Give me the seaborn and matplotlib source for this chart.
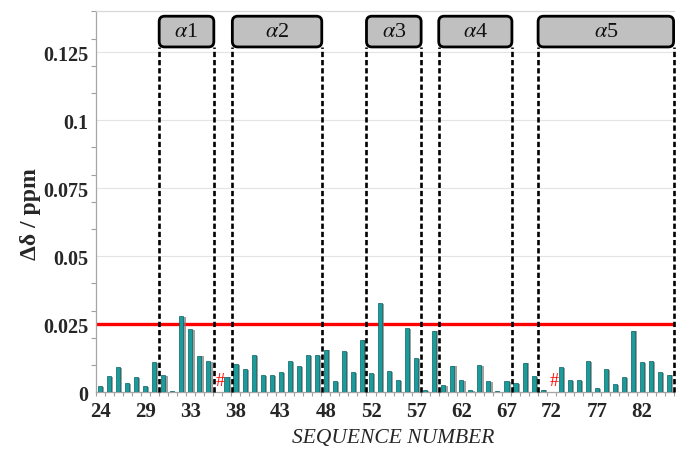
import numpy as np
import pandas as pd
import matplotlib
matplotlib.use("Agg")
import matplotlib.pyplot as plt
import seaborn as sns
from matplotlib.patches import FancyBboxPatch
from matplotlib.ticker import FixedLocator, MultipleLocator
import matplotlib.patheffects as pe

# ---------------- data ----------------
seq_index = list(range(64))
shift = [0.0024, 0.0059, 0.0094, 0.0034, 0.0055, 0.0024, 0.0110, 0.0064, 0.0005, 0.0279,
         0.0231, 0.0135, 0.0116, np.nan, 0.0058, 0.0103, 0.0086, 0.0137, 0.0064, 0.0064,
         0.0074, 0.0116, 0.0096, 0.0137, 0.0137, 0.0157, 0.0040, 0.0150, 0.0075, 0.0194,
         0.0071, 0.0329, 0.0077, 0.0045, 0.0236, 0.0126, 0.0009, 0.0227, 0.0027, 0.0098,
         0.0046, 0.0007, 0.0101, 0.0042, 0.0006, 0.0040, 0.0033, 0.0109, 0.0060, 0.0010,
         np.nan, 0.0093, 0.0045, 0.0045, 0.0116, 0.0016, 0.0086, 0.0029, 0.0055, 0.0227,
         0.0110, 0.0116, 0.0073, 0.0065]
missing_index = [13, 50]
x_tick_labels = ["24", "29", "33", "38", "43", "48", "52", "57", "62", "67", "72", "77", "82"]
y_tick_values = [0, 0.025, 0.05, 0.075, 0.1, 0.125]
y_tick_labels = ["0", "0.025", "0.05", "0.075", "0.1", "0.125"]
threshold = 0.025
helix_names = ["1", "2", "3", "4", "5"]
helix_start = [6.55, 14.65, 29.5, 37.5, 48.5]
helix_end = [12.6, 24.55, 35.55, 45.6, 63.5]

# ---------------- style ----------------
sns.set_style("white")
plt.rcParams["font.family"] = ["Liberation Serif", "DejaVu Serif"]
plt.rcParams["mathtext.fontset"] = "stix"

W, H = 676, 456
fig = plt.figure(figsize=(W / 100, H / 100), dpi=100)
ax_left, ax_right, ax_top, ax_bottom = 95.5, 673.6, 12.3, 393.3
ax = fig.add_axes([ax_left / W, 1 - ax_bottom / H, (ax_right - ax_left) / W,
                   (ax_bottom - ax_top) / H])

df = pd.DataFrame({"idx": seq_index, "shift": shift}).dropna()
sns.barplot(data=df, x="idx", y="shift", native_scale=True, width=0.45,
            color="#1a9c9c", saturation=1, edgecolor="#0d5f5f", linewidth=0.5,
            ax=ax, zorder=3)
for p in ax.patches:
    p.set_path_effects([pe.SimplePatchShadow(offset=(1.6, -0.6), shadow_rgbFace="#7a7a7a",
                                             alpha=0.7), pe.Normal()])

ymax = 0.14
ax.set_ylim(0, ymax)
ax.set_xlim(-0.5, len(seq_index) - 0.5)

ax.axhline(threshold, color="#ff0000", lw=2.4, zorder=2)

# helices
box_bottom, box_top = 0.1269, 0.1382
px_per_x = (ax_right - ax_left) / len(seq_index)
px_per_y = (ax_bottom - ax_top) / ymax
aspect = (1 / px_per_y) / (1 / px_per_x)
for name, s, e in zip(helix_names, helix_start, helix_end):
    ax.vlines([s, e], 0, box_bottom, colors="black", linestyles=(0, (2.0, 1.1)),
              lw=1.9, zorder=4, clip_on=False)
    box = FancyBboxPatch((s, box_bottom), e - s, box_top - box_bottom,
                         boxstyle="round,pad=0,rounding_size=0.6",
                         mutation_aspect=aspect, fc="#c0c0c0", ec="black", lw=2.0,
                         zorder=5, clip_on=False)
    ax.add_patch(box)
    ax.text((s + e) / 2, (box_bottom + box_top) / 2, r"$\alpha$" + name,
            ha="center", va="center", fontsize=16, zorder=6, color="#111111")

for i in missing_index:
    ax.annotate("#", xy=(i, 0.0045), xytext=(2, 0), textcoords="offset points",
                color="red", ha="center", va="center", fontsize=13, zorder=6)

# axes
ax.yaxis.set_major_locator(FixedLocator(y_tick_values))
ax.set_yticklabels(y_tick_labels)
ax.yaxis.set_minor_locator(MultipleLocator(0.01))
ax.set_xticks(seq_index[::5])
ax.set_xticklabels(x_tick_labels)
ax.set_xticks(np.arange(-0.5, len(seq_index), 1), minor=True)

ax.tick_params(axis="y", which="major", length=4, width=0.8, color="#a0a0a0",
               pad=1, labelsize=14.5)
ax.tick_params(axis="y", which="minor", left=True, length=3.5, width=0.8, color="#a0a0a0")
ax.tick_params(axis="x", which="major", length=0, pad=6, labelsize=15)
ax.tick_params(axis="x", which="minor", bottom=True, length=3, width=0.8, color="#a0a0a0")
for lab in ax.get_xticklabels() + ax.get_yticklabels():
    lab.set_fontweight("bold")

ax.grid(axis="y", which="major", color="#e4e4e4", lw=0.8)
ax.set_axisbelow(True)
for side in ["left", "bottom", "top"]:
    ax.spines[side].set_color("#a6a6a6")
    ax.spines[side].set_linewidth(0.9)
ax.spines["top"].set_color("#d8d8d8")
ax.spines["right"].set_visible(False)

ax.set_ylabel("Δδ / ppm", fontsize=17, fontweight="bold")
ax.yaxis.set_label_coords(-0.095, 0.47)
ax.set_xlabel("SEQUENCE NUMBER", fontsize=15.5, style="italic")
ax.xaxis.set_label_coords(0.515, -0.095)

fig.savefig("out.png", dpi=100)
